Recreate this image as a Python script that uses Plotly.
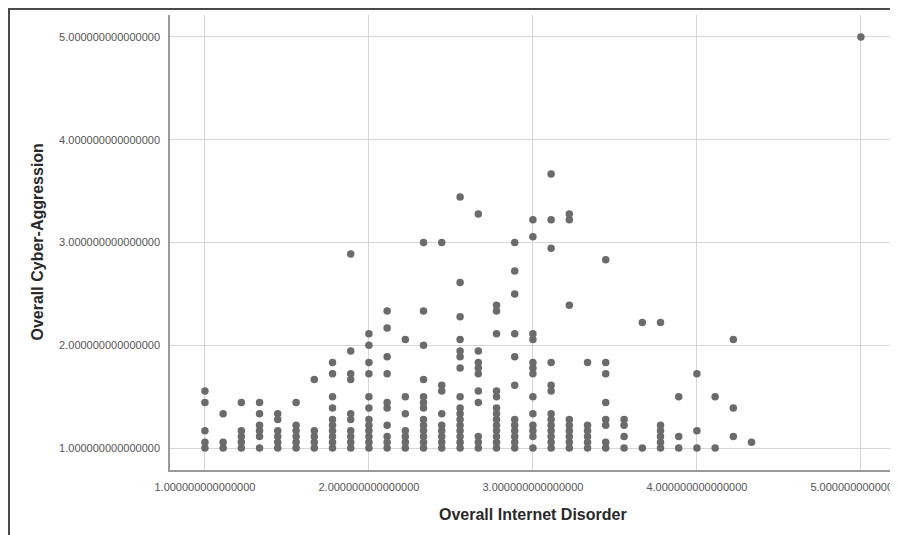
import plotly.graph_objects as go

# Overall Internet Disorder (x) columns and Overall Cyber-Aggression (y) values
x_cols = [1.000, 1.111, 1.222, 1.333, 1.444, 1.556, 1.667, 1.778, 1.889, 2.000,
          2.111, 2.222, 2.333, 2.444, 2.556, 2.667, 2.778, 2.889, 3.000, 3.111,
          3.222, 3.333, 3.444, 3.556, 3.667, 3.778, 3.889, 4.000, 4.111, 4.222,
          4.333, 5.000]

y_cols = [
    [1.000, 1.056, 1.167, 1.444, 1.556],
    [1.000, 1.056, 1.333],
    [1.000, 1.056, 1.111, 1.167, 1.444],
    [1.000, 1.111, 1.167, 1.222, 1.333, 1.444],
    [1.000, 1.056, 1.111, 1.167, 1.278, 1.333],
    [1.000, 1.056, 1.111, 1.167, 1.222, 1.444],
    [1.000, 1.056, 1.111, 1.167, 1.667],
    [1.000, 1.056, 1.111, 1.167, 1.222, 1.278, 1.389, 1.500, 1.722, 1.833],
    [1.000, 1.056, 1.111, 1.167, 1.278, 1.333, 1.667, 1.722, 1.944, 2.889],
    [1.000, 1.056, 1.111, 1.167, 1.222, 1.278, 1.389, 1.500, 1.722, 1.833, 2.000, 2.111],
    [1.000, 1.056, 1.111, 1.222, 1.389, 1.444, 1.722, 1.889, 2.167, 2.333],
    [1.000, 1.056, 1.111, 1.167, 1.333, 1.500, 2.056],
    [1.000, 1.056, 1.111, 1.167, 1.222, 1.278, 1.389, 1.444, 1.500, 1.667, 2.000, 2.333, 3.000],
    [1.000, 1.056, 1.111, 1.167, 1.222, 1.333, 1.556, 1.611, 3.000],
    [1.000, 1.056, 1.111, 1.167, 1.222, 1.278, 1.333, 1.389, 1.500, 1.778, 1.889, 1.944,
     2.056, 2.278, 2.611, 3.444],
    [1.000, 1.056, 1.111, 1.444, 1.556, 1.722, 1.778, 1.833, 1.944, 3.278],
    [1.000, 1.056, 1.111, 1.167, 1.222, 1.278, 1.333, 1.389, 1.500, 1.556, 2.111, 2.333, 2.389],
    [1.000, 1.056, 1.111, 1.167, 1.222, 1.278, 1.611, 1.889, 2.111, 2.500, 2.722, 3.000],
    [1.000, 1.111, 1.167, 1.222, 1.333, 1.500, 1.722, 1.778, 1.833, 2.056, 2.111, 3.056, 3.222],
    [1.000, 1.056, 1.111, 1.167, 1.222, 1.278, 1.333, 1.556, 1.611, 1.833, 2.944, 3.222, 3.667],
    [1.000, 1.056, 1.111, 1.167, 1.222, 1.278, 2.389, 3.222, 3.278],
    [1.000, 1.056, 1.111, 1.167, 1.222, 1.833],
    [1.000, 1.056, 1.222, 1.278, 1.444, 1.722, 1.833, 2.833],
    [1.000, 1.111, 1.222, 1.278],
    [1.000, 2.222],
    [1.000, 1.056, 1.111, 1.167, 1.222, 2.222],
    [1.000, 1.111, 1.500],
    [1.000, 1.167, 1.722],
    [1.000, 1.500],
    [1.111, 1.389, 2.056],
    [1.056],
    [5.000],
]

tick_vals = [1, 2, 3, 4, 5]
tick_text = ["1.000000000000000", "2.000000000000000", "3.000000000000000",
             "4.000000000000000", "5.000000000000000"]

x_title = "Overall Internet Disorder"
y_title = "Overall Cyber-Aggression"

xs, ys = [], []
for xv, yl in zip(x_cols, y_cols):
    for yv in yl:
        xs.append(xv)
        ys.append(yv)

FONT = "Liberation Sans, Arial, sans-serif"

fig = go.Figure(go.Scatter(
    x=xs, y=ys, mode="markers",
    marker=dict(size=7.5, color="#6b6b6b", line=dict(width=0)),
    hoverinfo="x+y",
))

# the page body adds an 8px offset, so the figure is sized/placed accordingly
W, H = 890, 527
L, R, T, B = 162, 2, 7, 65
pw, ph = W - L - R, H - T - B
plot_bottom = H - B

fig.update_layout(
    width=W, height=H,
    margin=dict(l=L, r=R, t=T, b=B, autoexpand=False),
    paper_bgcolor="white", plot_bgcolor="white",
    showlegend=False,
    font=dict(family=FONT),
    xaxis=dict(
        range=[0.787, 5.214], tickvals=tick_vals, ticktext=tick_text,
        showgrid=True, gridcolor="#d6d6d6", gridwidth=1,
        showline=True, linecolor="#9a9a9a", linewidth=1.5,
        zeroline=False, ticks="", ticklabelstandoff=6,
        ticklabeloverflow="allow", automargin=False,
        tickfont=dict(size=11, color="#555555", family=FONT),
    ),
    yaxis=dict(
        range=[0.786, 5.214], tickvals=tick_vals, ticktext=tick_text,
        showgrid=True, gridcolor="#d6d6d6", gridwidth=1,
        showline=True, linecolor="#9a9a9a", linewidth=1.5,
        zeroline=False, ticks="", ticklabelstandoff=6, automargin=False,
        tickfont=dict(size=11, color="#555555", family=FONT),
    ),
    annotations=[
        dict(text="<b>" + x_title + "</b>", xref="paper", yref="paper",
             x=0.5, y=(plot_bottom - 506) / ph, xanchor="center", yanchor="middle",
             showarrow=False, font=dict(size=16, color="#2a2a2a", family=FONT)),
        dict(text="<b>" + y_title + "</b>", xref="paper", yref="paper",
             x=(29 - L) / pw, y=0.5, xanchor="center", yanchor="middle",
             textangle=-90, showarrow=False,
             font=dict(size=16, color="#2a2a2a", family=FONT)),
    ],
    shapes=[
        dict(type="rect", xref="paper", yref="paper",
             x0=(1 - L) / pw, x1=1.2, y0=-0.3, y1=(plot_bottom - 1) / ph,
             line=dict(color="#4a4a4a", width=2), fillcolor="rgba(0,0,0,0)",
             layer="below"),
    ],
)

fig.write_html("out.html")
